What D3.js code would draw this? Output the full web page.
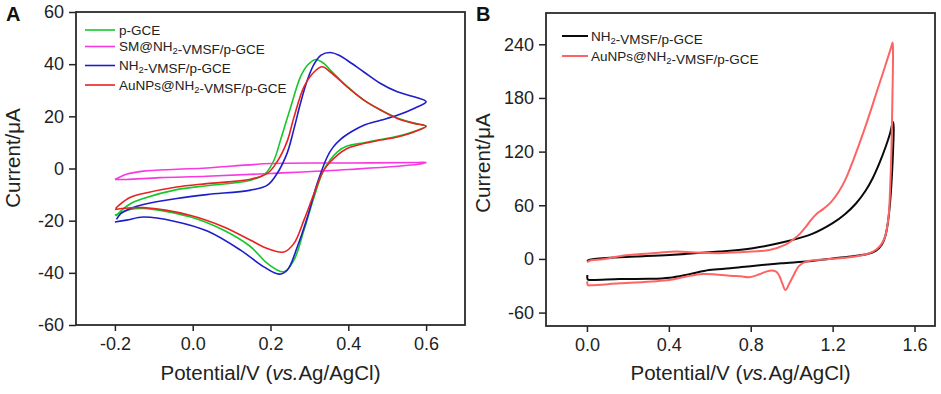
<!DOCTYPE html>
<html>
<head>
<meta charset="utf-8">
<script src="https://cdn.jsdelivr.net/npm/d3@7"></script>
<style>
    body { margin: 0; background: #fff; }
    svg { display: block; font-family: "Liberation Sans", Arial, sans-serif; }
</style>
</head>
<body>
<svg id="chart" width="941" height="394"></svg>
<script>
// ---- panel A: CV in redox probe ----
const xTicksA = [-0.2, 0, 0.2, 0.4, 0.6];
const xTickLabelsA = ['-0.2', '0.0', '0.2', '0.4', '0.6'];
const yTicksA = [-60, -40, -20, 0, 20, 40, 60];

const potA_pGCE = [-0.197, -0.187, -0.16, -0.127, -0.041, 0.036, 0.149, 0.187, 0.209, 0.226, 0.252, 0.277, 0.295, 0.316, 0.337, 0.354, 0.397, 0.44, 0.483, 0.526, 0.569, 0.6,
    0.569, 0.526, 0.483, 0.44, 0.397, 0.372, 0.337, 0.312, 0.286, 0.26, 0.234, 0.192, 0.149, 0.08, -0.005, -0.127, -0.161, -0.2];
const curA_pGCE = [-18.2, -16.6, -13.5, -11.5, -8.1, -6.6, -4.5, -1.9, 3.2, 11, 23.6, 35.1, 39.6, 41.8, 40.3, 37.7, 31.5, 26.2, 22.4, 19.4, 17.4, 16.2,
    14.2, 12.4, 11.1, 9.9, 8.6, 6.4, -0.6, -10.9, -23.7, -35.2, -39.6, -36.4, -30, -23.7, -18.6, -15.3, -15.7, -17.9];

const potA_SM = [-0.2, -0.17, -0.127, -0.041, 0.036, 0.2, 0.4, 0.58, 0.6, 0.58, 0.4, 0.2, 0.036, -0.084, -0.17, -0.2];
const curA_SM = [-4.2, -2.2, -1, -0.3, 0.2, 1.9, 2.1, 2.3, 2.3, 1.6, -0.4, -1.9, -3, -3.5, -4.2, -4.2];

const potA_NH2 = [-0.196, -0.185, -0.16, -0.127, -0.041, 0.036, 0.149, 0.192, 0.217, 0.243, 0.26, 0.277, 0.295, 0.312, 0.33, 0.353, 0.375, 0.397, 0.44, 0.483, 0.526, 0.569, 0.6,
    0.569, 0.526, 0.483, 0.44, 0.41, 0.38, 0.36, 0.346, 0.32, 0.295, 0.269, 0.243, 0.222, 0.183, 0.123, 0.0375, -0.048, -0.127, -0.17, -0.2];
const curA_NH2 = [-19.5, -17.3, -15.3, -13.8, -11.5, -10, -8.3, -6.4, -1.9, 6, 15, 25, 34, 40, 43.5, 44.5, 43.5, 41.5, 37, 32.6, 29.4, 27.5, 25.6,
    23, 20.4, 18.5, 16.6, 14.3, 11.2, 8, 4.5, -5.8, -18.6, -30, -39, -40.5, -37.7, -31.3, -24, -20.2, -18.6, -19.8, -20.5];

const potA_Au = [-0.198, -0.19, -0.16, -0.127, -0.041, 0.036, 0.149, 0.192, 0.217, 0.243, 0.26, 0.286, 0.312, 0.333, 0.354, 0.397, 0.44, 0.483, 0.526, 0.569, 0.6,
    0.569, 0.526, 0.483, 0.44, 0.397, 0.372, 0.337, 0.312, 0.286, 0.26, 0.234, 0.192, 0.149, 0.08, -0.005, -0.127, -0.2];
const curA_Au = [-15.3, -14.1, -11, -9.6, -7.1, -5.8, -4.1, -1.9, 2.6, 10.5, 19.5, 31.3, 37, 39, 37, 31.3, 26.2, 22.4, 19.2, 17.3, 16.2,
    14, 12.1, 10.9, 9.6, 7.7, 5.1, -0.6, -9.6, -19.8, -28.8, -32, -30.7, -27.5, -22.4, -18, -15, -15.7];

const labelsA = ['p-GCE', 'SM@NH2-VMSF/p-GCE', 'NH2-VMSF/p-GCE', 'AuNPs@NH2-VMSF/p-GCE'];

// ---- panel B: wide window CV ----
const xTicksB = [0, 0.4, 0.8, 1.2, 1.6];
const xTickLabelsB = ['0.0', '0.4', '0.8', '1.2', '1.6'];
const yTicksB = [-60, 0, 60, 120, 180, 240];

const potB_NH2 = [0, 0.02, 0.078, 0.16, 0.24, 0.403, 0.647, 0.81, 0.973, 1.1, 1.2, 1.26, 1.314, 1.36, 1.395, 1.43, 1.46, 1.48, 1.495,
    1.498, 1.495, 1.49, 1.483, 1.474, 1.46, 1.44, 1.41, 1.37, 1.3, 1.2, 1.086, 0.95, 0.81, 0.7, 0.597, 0.5, 0.403, 0.3, 0.16, 0.02, 0.004, 0.002];
const curB_NH2 = [-2.2, -0.5, 0.7, 1.9, 2.8, 4.5, 8.2, 12, 19.4, 28, 40, 50, 62, 76, 90, 108, 126, 140, 153,
    148, 120, 95, 70, 48, 28, 16, 9, 5.5, 3, 0.5, -2.6, -4.9, -7.8, -10.5, -12.5, -17, -21, -22.3, -22.5, -23.5, -23, -18];

const potB_Au = [0, 0.02, 0.078, 0.16, 0.24, 0.35, 0.436, 0.55, 0.647, 0.75, 0.891, 0.97, 1.005, 1.04, 1.07, 1.1, 1.125, 1.155, 1.19, 1.232, 1.265, 1.3, 1.36, 1.42, 1.46, 1.485, 1.493,
    1.495, 1.492, 1.487, 1.481, 1.473, 1.455, 1.43, 1.395, 1.33, 1.25, 1.17, 1.07, 1.035, 1.01, 0.989, 0.97, 0.955, 0.94, 0.924, 0.891, 0.843, 0.793, 0.75, 0.712, 0.566, 0.48, 0.403, 0.16, 0.02, 0.004, 0.002];
const curB_Au = [-3.5, -1.5, -0.4, 3, 5, 7, 8.2, 7, 6.4, 7.5, 10, 16, 21.3, 28, 36.2, 45, 51, 56, 63, 76, 90, 110, 148, 190, 218, 236, 242,
    230, 180, 120, 80, 47, 24, 14, 8, 3.5, 1, -0.5, -3, -8, -18, -27.3, -34.8, -28, -19, -14.2, -13.1, -17.2, -20.5, -19.5, -19, -16.8, -20, -23.5, -27.3, -29.5, -29.2, -25];

const labelsB = ['NH2-VMSF/p-GCE', 'AuNPs@NH2-VMSF/p-GCE'];

const svg = d3.select('#chart');

function labelText(sel, label) {
    // NH2 -> NH with subscript 2
    const parts = label.split('NH2');
    parts.forEach((p, i) => {
        if (p) sel.append('tspan').text(p);
        if (i < parts.length - 1) {
            sel.append('tspan').text('NH');
            sel.append('tspan').attr('font-size', '0.7em').attr('dy', '0.3em').text('2');
            sel.append('tspan').attr('dy', '-0.3em').text('');
        }
    });
}

function drawPanel(cfg) {
    const x = d3.scaleLinear().domain(cfg.xDomain).range([cfg.left, cfg.right]);
    const y = d3.scaleLinear().domain(cfg.yDomain).range([cfg.bottom, cfg.top]);
    const g = svg.append('g');

    const xAxis = g.append('g')
        .attr('transform', `translate(0,${cfg.bottom})`)
        .call(d3.axisBottom(x).tickValues(cfg.xTicks).tickFormat((d, i) => cfg.xTickLabels[i]).tickSize(6).tickPadding(6));
    const yAxis = g.append('g')
        .attr('transform', `translate(${cfg.left},0)`)
        .call(d3.axisLeft(y).tickValues(cfg.yTicks).tickFormat(d => String(d)).tickSize(7).tickPadding(5));

    [xAxis, yAxis].forEach(a => {
        a.select('.domain').remove();
        a.selectAll('line').attr('stroke', '#222').attr('stroke-width', 1.5);
        a.selectAll('text').attr('fill', '#222').attr('font-size', 18)
            .attr('font-family', '"Liberation Sans", Arial, sans-serif');
    });

    g.append('rect')
        .attr('x', cfg.left).attr('y', cfg.top)
        .attr('width', cfg.right - cfg.left).attr('height', cfg.bottom - cfg.top)
        .attr('fill', 'none').attr('stroke', '#2a2a2a').attr('stroke-width', 1.8);

    const line = d3.line()
        .x(d => x(d[0]))
        .y(d => y(d[1]))
        .curve(d3.curveCatmullRom.alpha(0.5));

    cfg.series.forEach(s => {
        g.append('path')
            .datum(s.pot.map((p, i) => [p, s.cur[i]]))
            .attr('fill', 'none')
            .attr('stroke', s.color)
            .attr('stroke-width', cfg.lineWidth)
            .attr('stroke-linejoin', 'round')
            .attr('d', line);
    });

    // legend
    cfg.series.forEach((s, i) => {
        const ly = cfg.legend.rows[i];
        g.append('line')
            .attr('x1', cfg.legend.x1).attr('x2', cfg.legend.x2)
            .attr('y1', ly).attr('y2', ly)
            .attr('stroke', s.color).attr('stroke-width', cfg.lineWidth);
        const t = g.append('text')
            .attr('x', cfg.legend.tx).attr('y', ly + 4.8)
            .attr('font-size', 13.5).attr('fill', '#222');
        labelText(t, s.label);
    });

    // axis titles
    const xt = g.append('text')
        .attr('x', (cfg.left + cfg.right) / 2).attr('y', 380)
        .attr('text-anchor', 'middle').attr('font-size', 20.5).attr('fill', '#222');
    xt.append('tspan').text('Potential/V (');
    xt.append('tspan').attr('font-style', 'italic').text('vs.');
    xt.append('tspan').text('Ag/AgCl)');

    g.append('text')
        .attr('transform', `translate(${cfg.yTitleX},${cfg.yTitleY}) rotate(-90)`)
        .attr('text-anchor', 'middle').attr('dy', '0.35em')
        .attr('font-size', 20.5).attr('fill', '#222')
        .text('Current/μA');

    g.append('text')
        .attr('x', cfg.letterX).attr('y', 21)
        .attr('font-size', 20).attr('font-weight', 'bold').attr('fill', '#111')
        .text(cfg.letter);
}

drawPanel({
    letter: 'A', letterX: 6,
    left: 76, right: 465, top: 12, bottom: 325,
    xDomain: [-0.3, 0.7], yDomain: [-60, 60],
    xTicks: xTicksA, xTickLabels: xTickLabelsA, yTicks: yTicksA,
    yTitleX: 13, yTitleY: 158,
    lineWidth: 1.6,
    legend: { x1: 85, x2: 115, tx: 119, rows: [30, 46.5, 65.5, 85] },
    series: [
        { pot: potA_pGCE, cur: curA_pGCE, color: '#14c82a', label: labelsA[0] },
        { pot: potA_SM, cur: curA_SM, color: '#f838e0', label: labelsA[1] },
        { pot: potA_NH2, cur: curA_NH2, color: '#1e1ec8', label: labelsA[2] },
        { pot: potA_Au, cur: curA_Au, color: '#e82222', label: labelsA[3] }
    ]
});

drawPanel({
    letter: 'B', letterX: 476,
    left: 546, right: 935, top: 13, bottom: 326,
    xDomain: [-0.2, 1.7], yDomain: [-75, 275],
    xTicks: xTicksB, xTickLabels: xTickLabelsB, yTicks: yTicksB,
    yTitleX: 483, yTitleY: 163,
    lineWidth: 2,
    legend: { x1: 562, x2: 588, tx: 591, rows: [36, 56] },
    series: [
        { pot: potB_NH2, cur: curB_NH2, color: '#0a0a0a', label: labelsB[0] },
        { pot: potB_Au, cur: curB_Au, color: '#ff6464', label: labelsB[1] }
    ]
});
</script>
</body>
</html>
